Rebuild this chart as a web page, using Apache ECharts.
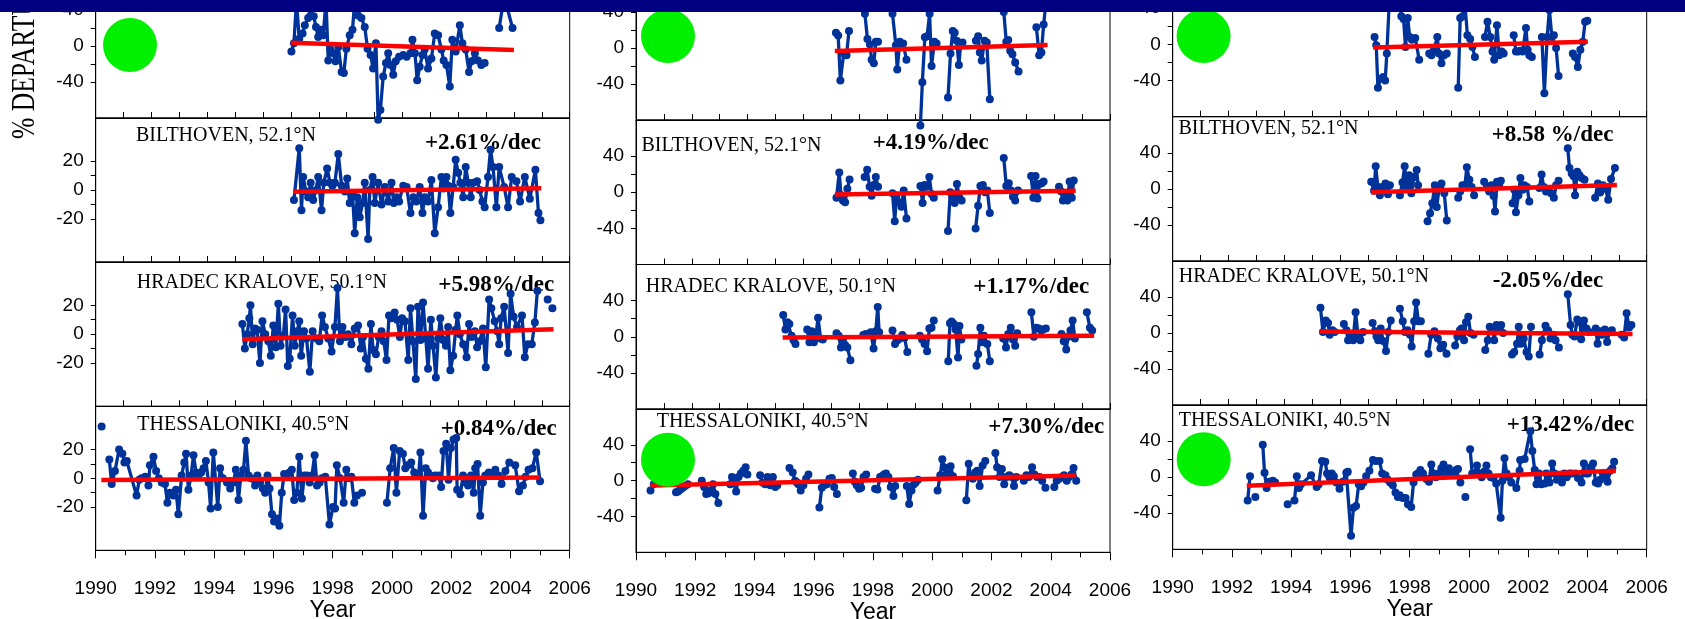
<!DOCTYPE html>
<html><head><meta charset="utf-8">
<script src="https://cdn.jsdelivr.net/npm/echarts@6/dist/echarts.min.js"></script>
<style>html,body{margin:0;padding:0;background:#fff}#c{width:1685px;height:619px}</style>
</head><body><div id="c"></div>
<script>
// ---------------- DATA ----------------
const xTickLabels = [1990,1992,1994,1996,1998,2000,2002,2004,2006];
const stationNames = ['BILTHOVEN, 52.1°N','HRADEC KRALOVE, 50.1°N','THESSALONIKI, 40.5°N'];
const trendLabels = ['+2.61%/dec','+5.98%/dec','+0.84%/dec','+4.19%/dec','+1.17%/dec','+7.30%/dec','+8.58 %/dec','-2.05%/dec','+13.42%/dec'];
const yAxisTitle = '% DEPARTURE';
const xAxisTitle = 'Year';

// column 1
const c1Top = [[1997.02,-6],[1997.11,3],[1997.20,50],[1997.30,8],[1997.42,14],[1997.50,23],[1997.62,31],[1997.71,34],[1997.82,33],[1997.90,21],[1997.98,10],[1998.08,18],[1998.16,12],[1998.26,50],[1998.34,-16],[1998.42,-4],[1998.52,-8],[1998.60,-17],[1998.70,-1],[1998.82,-29],[1998.90,-30],[1998.99,-3],[1999.11,12],[1999.21,18],[1999.29,50],[1999.41,34],[1999.53,31],[1999.65,21],[1999.75,-3],[1999.86,-10],[1999.95,-25],[2000.05,3],[2000.13,-82],[2000.21,-71],[2000.31,-34],[2000.41,-19],[2000.49,-8],[2000.57,-21],[2000.67,-32],[2000.76,-17],[2000.88,-12],[2001.03,-10],[2001.15,-12],[2001.29,-8],[2001.36,7],[2001.45,-8],[2001.53,-38],[2001.62,-23],[2001.72,-10],[2001.80,-4],[2001.92,-25],[2002.04,-14],[2002.16,14],[2002.28,12],[2002.40,-4],[2002.48,-16],[2002.58,-21],[2002.70,-45],[2002.79,7],[2002.91,-6],[2003.06,23],[2003.15,3],[2003.27,-4],[2003.39,-29],[2003.48,-17],[2003.60,-8],[2003.71,-16],[2003.83,-21],[2003.95,-19],null,[2004.47,20],[2004.65,55],[2004.95,20]];
const c1TopTrend = [[1997.0,3.7],[2005.0,-4.4]];
const c1Bilt = [[1997.11,-7],[1997.30,29],[1997.38,-14],[1997.44,9],[1997.54,-1],[1997.62,-5],[1997.71,5],[1997.80,-7],[1997.90,0],[1997.98,9],[1998.10,-14],[1998.18,5],[1998.30,15],[1998.40,5],[1998.49,3],[1998.58,5],[1998.70,25],[1998.82,3],[1998.94,-1],[1999.02,8],[1999.11,-9],[1999.21,-2],[1999.29,-30],[1999.38,-5],[1999.47,-19],[1999.57,-9],[1999.65,5],[1999.77,-34],[1999.83,0],[1999.93,9],[2000.01,-9],[2000.13,5],[2000.25,-10],[2000.37,2],[2000.49,-8],[2000.61,5],[2000.69,-9],[2000.79,-5],[2000.88,-8],[2001.03,3],[2001.15,2],[2001.29,-16],[2001.39,-5],[2001.50,-8],[2001.62,2],[2001.72,-16],[2001.80,-5],[2001.92,-8],[2002.04,7],[2002.16,-30],[2002.28,-12],[2002.40,9],[2002.48,1],[2002.58,9],[2002.64,3],[2002.72,-16],[2002.82,2],[2002.91,21],[2003.00,12],[2003.08,5],[2003.18,-5],[2003.27,16],[2003.36,5],[2003.45,-5],[2003.54,5],[2003.68,6],[2003.77,0],[2003.87,-8],[2003.95,-12],[2004.07,9],[2004.16,28],[2004.25,16],[2004.37,-12],[2004.47,16],[2004.65,2],[2004.79,-12],[2004.92,9],[2005.09,6],[2005.22,-8],[2005.39,9],[2005.57,-6],[2005.77,14],[2005.88,-16],[2005.95,-21]];
const c1BiltTrend = [[1997.08,-1.3],[2005.98,1.2]];
const c1Hrad = [[1995.26,7],[1995.35,-10],[1995.43,0],[1995.51,11],[1995.55,20],[1995.63,-7],[1995.71,4],[1995.79,3],[1995.89,-20],[1995.98,9],[1996.08,0],[1996.19,-5],[1996.28,-15],[1996.37,6],[1996.46,-9],[1996.55,21],[1996.63,-8],[1996.73,-1],[1996.81,17],[1996.89,-22],[1996.96,-17],[1997.06,13],[1997.14,-8],[1997.23,2],[1997.30,9],[1997.37,-15],[1997.47,2],[1997.56,-3],[1997.68,-26],[1997.78,2],[1997.92,-3],[1998.02,-5],[1998.12,13],[1998.22,5],[1998.34,-3],[1998.46,-12],[1998.58,5],[1998.67,32],[1998.76,-5],[1998.85,5],[1998.96,-2],[1999.05,0],[1999.17,-7],[1999.29,4],[1999.41,6],[1999.51,-10],[1999.59,-2],[1999.69,-17],[1999.78,-24],[1999.87,7],[1999.95,-11],[2000.05,-14],[2000.15,-2],[2000.25,2],[2000.33,-5],[2000.43,-18],[2000.52,13],[2000.61,11],[2000.72,15],[2000.81,10],[2000.91,-2],[2000.99,11],[2001.09,9],[2001.21,-18],[2001.29,18],[2001.38,-5],[2001.48,-31],[2001.56,19],[2001.65,-4],[2001.74,22],[2001.84,-3],[2001.92,-24],[2002.02,10],[2002.10,-8],[2002.20,-30],[2002.28,-3],[2002.36,11],[2002.46,-4],[2002.56,-8],[2002.64,5],[2002.72,-25],[2002.82,-15],[2002.91,3],[2002.97,13],[2003.06,0],[2003.18,-7],[2003.30,-16],[2003.39,7],[2003.48,-2],[2003.60,2],[2003.68,-9],[2003.77,-5],[2003.89,4],[2003.99,-23],[2004.11,24],[2004.19,18],[2004.31,9],[2004.40,2],[2004.47,-7],[2004.54,11],[2004.65,19],[2004.79,-13],[2004.88,28],[2004.99,12],[2005.11,5],[2005.29,13],[2005.39,-16],[2005.50,-7],[2005.64,-7],[2005.75,8],[2005.84,30],null,[2006.21,24],null,[2006.38,18]];
const c1HradTrend = [[1995.26,-3.6],[2006.42,3.4]];
const c1Thes = [[1990.20,36],null,[1990.46,13],[1990.54,-4],[1990.65,5],[1990.79,20],[1990.90,17],[1990.97,11],[1991.05,12],[1991.38,-12],[1991.47,-1],[1991.55,0],[1991.67,1],[1991.78,-5],[1991.83,9],[1991.95,15],[1992.04,5],[1992.13,0],[1992.23,-3],[1992.34,-4],[1992.42,-17],[1992.51,-10],[1992.62,-12],[1992.71,-8],[1992.79,-25],[1992.90,2],[1992.99,11],[1993.05,17],[1993.13,-8],[1993.22,2],[1993.30,16],[1993.39,4],[1993.47,2],[1993.56,4],[1993.64,7],[1993.72,12],[1993.81,-3],[1993.88,-21],[1993.97,18],[1994.12,-20],[1994.20,7],[1994.29,0],[1994.43,-3],[1994.54,-7],[1994.65,-3],[1994.73,6],[1994.82,-15],[1994.90,2],[1994.99,6],[1995.07,26],[1995.16,2],[1995.24,0],[1995.38,-5],[1995.46,2],[1995.55,-3],[1995.64,-7],[1995.72,-10],[1995.80,2],[1995.87,-7],[1995.95,-25],[1996.02,-30],[1996.11,-28],[1996.20,-33],[1996.28,-10],[1996.36,3],[1996.45,2],[1996.54,4],[1996.62,6],[1996.70,-15],[1996.79,-10],[1996.87,15],[1996.96,-14],[1997.04,2],[1997.13,2],[1997.22,-3],[1997.30,2],[1997.39,16],[1997.47,-5],[1997.56,-3],[1997.63,0],[1997.75,1],[1997.89,-32],[1998.01,-20],[1998.08,-21],[1998.14,9],[1998.25,0],[1998.37,-17],[1998.46,6],[1998.54,0],[1998.63,1],[1998.73,-17],[1998.82,-12],[1998.99,-10],null,[1999.83,-17],[1999.94,7],[2000.06,21],[2000.15,-10],[2000.26,19],[2000.37,17],[2000.45,7],[2000.54,9],[2000.65,11],[2000.75,4],[2000.90,2],[2000.96,18],[2001.05,-26],[2001.14,7],[2001.22,4],[2001.29,2],[2001.38,0],[2001.46,2],[2001.58,2],[2001.66,-6],[2001.74,19],[2001.83,24],[2001.91,-1],[2001.99,21],[2002.08,27],[2002.17,28],[2002.20,-8],[2002.31,-11],[2002.40,2],[2002.48,-3],[2002.57,-5],[2002.67,2],[2002.76,-10],[2002.81,7],[2002.89,10],[2002.98,-26],[2003.07,-3],[2003.15,2],[2003.27,4],[2003.38,2],[2003.49,6],[2003.60,2],[2003.70,-4],[2003.83,5],[2003.96,11],[2004.16,9],[2004.29,-9],[2004.42,-5],[2004.51,1],[2004.61,6],[2004.74,7],[2004.87,18],[2005.00,-2]];
const c1ThesTrend = [[1990.19,-1.2],[2005.0,0.6]];

// column 2
const c2Top = [[1997.17,17],[1997.25,14],[1997.33,-36],[1997.45,-6],[1997.55,-8],[1997.64,19],null,[1998.1,50],[1998.21,38],[1998.3,10],[1998.39,4],[1998.45,-13],[1998.53,-17],[1998.6,7],[1998.68,7],null,[1999.1,55],[1999.2,38],[1999.32,3],[1999.37,-24],[1999.46,7],[1999.58,5],[1999.7,-13],null,[2000.2,-86],[2000.27,-38],[2000.36,12],[2000.44,13],[2000.53,38],[2000.6,-20],[2000.7,7],[2000.78,5],null,[2001.19,-55],[2001.28,-6],[2001.36,19],[2001.43,17],[2001.5,8],[2001.58,-19],[2001.64,3],[2001.71,6],null,[2002.19,8],[2002.27,13],[2002.33,-5],[2002.4,-14],[2002.5,8],[2002.58,6],[2002.69,-57],null,[2003.1,50],[2003.19,40],[2003.28,7],[2003.35,9],[2003.42,-3],[2003.5,-7],[2003.6,-16],[2003.72,-26],null,[2004.36,23],[2004.46,-8],[2004.54,-5],[2004.62,26],[2004.7,50]];
const c2TopTrend = [[1997.13,-3.4],[2004.76,3.3]];
const c2Bilt = [[1997.19,-6],[1997.29,22],[1997.35,-3],[1997.42,-9],[1997.5,-11],[1997.58,4],[1997.66,14],null,[1998.2,17],[1998.29,25],[1998.38,6],[1998.45,-4],[1998.53,8],[1998.6,17],[1998.68,6],null,[1999.2,-1],[1999.28,-32],[1999.34,-4],[1999.44,-11],[1999.52,-16],[1999.6,2],[1999.7,-29],null,[2000.2,7],[2000.28,-12],[2000.35,8],[2000.43,6],[2000.52,17],[2000.6,-2],[2000.68,-6],null,[2001.19,-43],[2001.27,0],[2001.35,-5],[2001.43,-12],[2001.51,9],[2001.6,-6],[2001.68,-9],null,[2002.18,-40],[2002.27,-15],[2002.35,7],[2002.44,8],[2002.52,0],[2002.6,2],[2002.69,-23],null,[2003.19,38],[2003.28,7],[2003.37,10],[2003.45,2],[2003.52,-5],[2003.6,-9],[2003.7,2],null,[2004.17,18],[2004.25,-6],[2004.33,18],[2004.4,-7],[2004.47,9],[2004.55,10],[2004.62,12],null,[2005.17,6],[2005.24,1],[2005.31,-9],[2005.39,-3],[2005.47,-9],[2005.55,12],[2005.63,-6],[2005.7,13]];
const c2BiltTrend = [[1997.13,-2.4],[2005.77,1.7]];
const c2Hrad = [[1995.28,24],[1995.36,8],[1995.43,16],[1995.5,14],[1995.58,1],[1995.65,-4],[1995.72,-8],null,[1996.14,8],[1996.22,-6],[1996.3,6],[1996.38,-6],[1996.45,1],[1996.53,21],[1996.62,-2],[1996.7,-3],null,[1997.19,4],[1997.27,1],[1997.35,-12],[1997.42,-4],[1997.5,-9],[1997.58,-12],[1997.69,-26],null,[1998.15,2],[1998.24,3],[1998.33,3],[1998.42,5],[1998.52,-13],[1998.6,6],[1998.67,33],[1998.72,5],null,[1999.2,7],[1999.29,-8],[1999.38,-4],[1999.46,-2],[1999.55,2],[1999.63,-1],[1999.73,-17],null,[2000.18,1],[2000.26,-3],[2000.35,-8],[2000.44,-16],[2000.52,9],[2000.6,10],[2000.68,18],null,[2001.2,-27],[2001.26,15],[2001.32,17],[2001.4,14],[2001.46,8],[2001.55,-23],[2001.6,12],[2001.67,-3],null,[2002.21,-32],[2002.27,-19],[2002.35,10],[2002.42,-6],[2002.48,1],[2002.6,-8],[2002.69,-27],null,[2003.17,-2],[2003.27,-12],[2003.35,3],[2003.44,10],[2003.52,-3],[2003.6,-10],[2003.67,4],null,[2004.18,27],[2004.27,0],[2004.36,10],[2004.45,9],[2004.53,7],[2004.6,8],[2004.7,9],null,[2005.26,3],[2005.34,-5],[2005.43,-14],[2005.5,0],[2005.58,7],[2005.66,18],[2005.74,-2],null,[2006.17,27],[2006.28,10],[2006.36,7]];
const c2HradTrend = [[1995.26,-0.7],[2006.43,1.2]];
const c2Thes = [[1990.49,-11],[1990.6,-4],[1990.7,-2],null,[1991.35,-13],[1991.42,-12],[1991.5,-10],[1991.58,-8],[1991.66,-6],[1991.75,-4],null,[1992.22,0],[1992.3,-7],[1992.37,-15],[1992.45,-14],[1992.52,-11],[1992.6,-4],[1992.68,-15],[1992.78,-25],null,[1993.18,-4],[1993.24,4],[1993.31,-3],[1993.38,-12],[1993.46,4],[1993.54,8],[1993.62,11],[1993.7,15],[1993.76,7],null,[1994.19,6],[1994.27,-2],[1994.36,-4],[1994.44,4],[1994.53,-5],[1994.62,4],[1994.7,-7],[1994.77,-5],null,[1995.18,14],[1995.29,9],[1995.37,0],[1995.43,-2],[1995.48,-4],[1995.56,-11],[1995.65,-5],[1995.74,2],[1995.82,7],null,[1996.19,-30],[1996.27,-8],[1996.35,-5],[1996.44,-4],[1996.53,2],[1996.61,3],[1996.69,-7],[1996.78,-15],null,[1997.32,8],[1997.38,-1],[1997.45,-5],[1997.53,-9],[1997.6,-8],[1997.68,4],[1997.77,7],null,[1998.07,-9],[1998.15,-10],[1998.24,4],[1998.3,5],[1998.37,7],[1998.44,8],[1998.52,4],[1998.6,-7],[1998.69,-17],[1998.75,-6],null,[1999.14,-6],[1999.22,-26],[1999.3,-11],[1999.38,-4],[1999.44,-2],[1999.52,1],null,[2000.18,-11],[2000.27,6],[2000.34,24],[2000.4,15],[2000.47,7],[2000.55,8],[2000.62,16],[2000.7,5],null,[2001.15,-22],[2001.23,19],[2001.3,4],[2001.37,2],[2001.45,9],[2001.52,11],[2001.6,-6],[2001.7,17],[2001.79,22],null,[2002.13,31],[2002.19,15],[2002.27,4],[2002.35,13],[2002.43,-4],[2002.51,4],[2002.6,6],[2002.68,4],[2002.76,-6],[2002.84,4],null,[2003.09,0],[2003.18,6],[2003.26,4],[2003.37,15],[2003.45,7],[2003.54,4],[2003.63,4],[2003.71,0],[2003.82,-8],null,[2004.12,-7],[2004.2,0],[2004.29,2],[2004.37,4],[2004.45,6],[2004.54,0],[2004.62,4],[2004.7,7],[2004.77,14],[2004.86,0]];
const c2ThesTrend = [[1990.49,-5.5],[2004.86,5.7]];

// column 3
const c3Top = [[1997.24,8],[1997.3,-1],[1997.36,-48],[1997.45,-38],[1997.55,-36],[1997.62,-40],[1997.68,-10],[1997.78,55],[1998.12,55],[1998.2,31],[1998.28,28],[1998.35,-3],[1998.43,29],[1998.5,8],[1998.58,5],[1998.7,7],[1998.84,-17],null,[1999.2,-10],[1999.28,-12],[1999.37,-6],[1999.49,8],[1999.55,-10],[1999.64,-21],[1999.73,-12],[1999.83,-10],null,[2000.24,-48],[2000.31,29],[2000.4,31],[2000.48,45],[2000.57,10],[2000.67,6],[2000.75,-3],[2000.84,-14],null,[2001.2,8],[2001.29,25],[2001.39,8],[2001.47,-8],[2001.53,-17],[2001.63,21],[2001.71,-12],[2001.8,-8],[2001.87,-10],null,[2002.23,10],[2002.31,-8],[2002.39,-8],[2002.47,-7],[2002.55,-8],[2002.67,18],[2002.73,-6],[2002.79,-12],[2002.88,-14],null,[2003.24,8],[2003.33,-54],[2003.43,8],[2003.51,38],[2003.6,8],[2003.67,10],[2003.75,-4],[2003.84,-35],null,[2004.35,-10],[2004.43,-14],[2004.53,-25],[2004.62,-6],[2004.71,3],[2004.79,25],[2004.87,26]];
const c3TopTrend = [[1997.19,-3.4],[2004.89,2.9]];
const c3Bilt = [[1997.12,8],[1997.22,-2],[1997.28,25],[1997.36,2],[1997.43,-7],[1997.52,2],[1997.63,6],[1997.72,-6],[1997.79,4],null,[1998.15,-7],[1998.24,7],[1998.32,25],[1998.39,2],[1998.48,15],[1998.56,-5],[1998.65,13],[1998.75,21],[1998.8,4],null,[1999.14,-36],[1999.23,-27],[1999.31,-16],[1999.4,4],[1999.47,-20],[1999.56,2],[1999.64,6],[1999.74,-5],[1999.83,-35],null,[2000.24,-10],[2000.31,-3],[2000.39,4],[2000.48,4],[2000.55,24],[2000.64,10],[2000.72,2],[2000.81,-7],null,[2001.17,8],[2001.27,2],[2001.35,-3],[2001.43,4],[2001.51,-8],[2001.56,-25],[2001.63,8],[2001.71,4],[2001.77,9],null,[2002.19,-16],[2002.25,-1],[2002.31,-26],[2002.4,-7],[2002.47,12],[2002.55,-1],[2002.61,4],[2002.71,2],[2002.79,-14],null,[2003.15,1],[2003.23,16],[2003.31,2],[2003.39,-3],[2003.48,-1],[2003.57,-5],[2003.67,-10],[2003.75,4],[2003.84,9],null,[2004.17,45],[2004.23,23],[2004.31,17],[2004.38,14],[2004.43,-7],[2004.51,19],[2004.59,15],[2004.67,12],[2004.77,10],null,[2005.15,-10],[2005.25,6],[2005.33,-4],[2005.43,4],[2005.52,0],[2005.62,-12],[2005.72,11],[2005.86,23]];
const c3BiltTrend = [[1997.11,-3.8],[2005.93,4.2]];
const c3Hrad = [[1995.3,28],[1995.39,1],[1995.49,14],[1995.57,11],[1995.63,-2],[1995.73,3],[1995.81,1],null,[1996.14,10],[1996.23,3],[1996.29,-8],[1996.37,-2],[1996.47,-8],[1996.56,23],[1996.65,-4],[1996.73,-8],[1996.83,1],null,[1997.17,11],[1997.25,2],[1997.31,-4],[1997.37,-8],[1997.46,5],[1997.55,-9],[1997.65,-20],[1997.73,1],[1997.82,14],null,[1998.15,27],[1998.25,13],[1998.33,1],[1998.42,3],[1998.51,-2],[1998.57,-15],[1998.66,13],[1998.73,34],[1998.81,13],[1998.9,13],null,[1999.17,-23],[1999.27,-2],[1999.39,2],[1999.51,-6],[1999.6,-17],[1999.7,-13],[1999.82,-23],null,[2000.13,-14],[2000.21,-4],[2000.3,3],[2000.36,5],[2000.45,-8],[2000.52,12],[2000.6,18],[2000.68,0],[2000.79,-2],null,[2001.21,-19],[2001.3,-8],[2001.37,7],[2001.45,5],[2001.53,-8],[2001.61,9],[2001.69,3],[2001.78,9],[2001.85,0],null,[2002.17,-24],[2002.25,-21],[2002.35,-12],[2002.41,7],[2002.49,-12],[2002.59,-6],[2002.69,-21],[2002.77,-26],[2002.85,7],null,[2003.16,-24],[2003.24,-8],[2003.37,8],[2003.46,3],[2003.55,-6],[2003.64,-2],[2003.73,-8],[2003.85,-16],null,[2004.17,43],[2004.27,9],[2004.33,-2],[2004.41,-4],[2004.51,15],[2004.61,12],[2004.65,-7],[2004.75,14],[2004.84,5],[2004.93,1],null,[2005.17,5],[2005.24,-12],[2005.32,2],[2005.4,-2],[2005.5,4],[2005.58,-10],[2005.66,1],[2005.75,3],null,[2006.1,-2],[2006.19,-5],[2006.28,22],[2006.37,6],[2006.45,9]];
const c3HradTrend = [[1995.27,1.8],[2006.49,-1.2]];
const c3Thes = [[1992.53,-26],[1992.61,1],null,[1992.79,-22],null,[1993.04,36],[1993.1,5],[1993.17,-12],[1993.27,-5],[1993.38,-4],[1993.46,-6],null,[1993.88,-30],null,[1994.11,-26],[1994.19,1],[1994.26,-12],[1994.33,-8],[1994.67,2],[1994.86,-11],[1994.93,-8],[1995.04,18],[1995.15,17],[1995.21,4],[1995.29,0],[1995.37,4],[1995.44,1],[1995.52,-6],[1995.63,-13],[1995.74,-5],[1995.86,5],[1995.91,6],[1996.02,-65],[1996.1,-34],[1996.19,-32],[1996.28,-8],[1996.36,-10],[1996.44,-6],[1996.53,1],[1996.64,7],[1996.76,19],[1996.85,18],[1996.98,18],[1997.07,4],[1997.18,2],[1997.26,-3],[1997.34,-6],[1997.43,-9],[1997.52,-17],[1997.6,-22],[1997.66,-20],[1997.77,-23],[1997.86,-23],[1997.94,-30],[1998.05,-33],[1998.13,-6],[1998.22,3],[1998.28,4],[1998.36,8],[1998.45,4],[1998.56,-2],[1998.65,-5],[1998.73,14],[1998.81,4],[1998.88,0],[1998.99,4],[1999.07,10],[1999.14,14],[1999.23,4],[1999.32,10],[1999.4,6],[1999.48,4],[1999.57,8],[1999.63,9],[1999.71,-6],null,[1999.88,-22],null,[2000.04,31],[2000.11,4],[2000.19,4],[2000.27,13],[2000.35,4],[2000.43,0],[2000.51,6],[2000.59,13],[2000.66,4],[2000.74,0],[2000.83,-1],[2000.92,-7],[2001.07,-45],[2001.13,-4],[2001.2,21],[2001.27,4],[2001.35,0],[2001.43,-6],[2001.6,-12],[2001.71,7],[2001.73,19],[2001.88,20],[2002.07,51],[2002.14,29],[2002.22,8],[2002.28,-8],[2002.37,4],[2002.45,-8],[2002.56,-7],[2002.61,4],[2002.72,-6],[2002.81,15],[2002.89,4],[2002.97,-3],[2003.06,0],[2003.14,-6],[2003.22,4],[2003.3,0],[2003.39,4],[2003.47,4],[2003.6,4],[2003.68,-1],[2003.8,-6],[2003.88,15],[2003.95,4],[2004.02,4],[2004.1,11],[2004.19,15],[2004.28,-6],[2004.36,-7],[2004.43,-3],[2004.52,4],[2004.6,2],[2004.68,-5],[2004.77,7],[2004.84,10],[2004.9,17]];
const c3ThesTrend = [[1992.5,-9.5],[2004.96,7.2]];

// y ranges per panel (column x row)
const yRange = [[80,50,50,50],[80,80,80,80],[80,80,80,80]];

// ---------------- LAYOUT ----------------
const COLS = [
  {left:95.7, width:474, rows:[[-26,144],[118,144],[262,144.3],[406.3,144]]},
  {left:636, width:474, rows:[[-24,144],[120,144.5],[264.5,144.5],[409,143.3]]},
  {left:1172.7, width:474, rows:[[-28,144.7],[116.7,144.3],[261,144],[405,144.3]]}
];
const panelData = [
  [[c1Top,c1TopTrend],[c1Bilt,c1BiltTrend],[c1Hrad,c1HradTrend],[c1Thes,c1ThesTrend]],
  [[c2Top,c2TopTrend],[c2Bilt,c2BiltTrend],[c2Hrad,c2HradTrend],[c2Thes,c2ThesTrend]],
  [[c3Top,c3TopTrend],[c3Bilt,c3BiltTrend],[c3Hrad,c3HradTrend],[c3Thes,c3ThesTrend]]
];
const namePos = [[136,136],[136.7,282.7],[137.3,424.3],[641.4,145.5],[645.7,286.7],[656.7,421.3],[1178.4,128.3],[1178.7,276.7],[1178.7,420.7]];
const trendPos = [[425,143.3],[438.3,284.7],[440.7,428.7],[872.7,143.3],[973.3,286.7],[988.3,427.3],[1491.7,135],[1492.7,280.7],[1506.7,425]];
const circles = [[130,45],[668,36],[668,459.7],[1203.6,36],[1203.7,459.3]];

const SANS = "'Liberation Sans', Arial, sans-serif";
const SERIF = "'Liberation Serif', 'Times New Roman', serif";
const BLUE = '#003399';

const grids=[], xAxes=[], yAxes=[], series=[];
let gi = 0;
const fix = arr => arr.map(d => d === null ? ['-','-'] : d);
COLS.forEach((col, ci) => {
  col.rows.forEach((r, ri) => {
    const last = ri === 3;
    grids.push({left:col.left, top:r[0], width:col.width, height:r[1], show:true, borderColor:'#000', borderWidth:1,
      backgroundColor:'transparent', containLabel:false, outerBoundsMode:'none'});
    const xa = {type:'value', gridIndex:gi, min:1990, max: last ? 2006 : 2007, interval: last ? 2 : 1,
      axisLine:{show:true, onZero:false, lineStyle:{color:'#000', width:1}},
      splitLine:{show:false},
      axisTick:{show:true, inside:!last, length: last ? 8 : 6, lineStyle:{color:'#000', width:1}},
      axisLabel:{show:last, margin:29, fontSize:19, fontFamily:SANS, color:'#000', formatter: v => String(v)}};
    if (last) {
      xa.minorTick = {show:true, splitNumber:2, length:5, lineStyle:{color:'#000', width:1}};
      xa.name = xAxisTitle; xa.nameLocation='middle'; xa.nameGap=49;
      xa.nameTextStyle = {fontSize:23, fontFamily:SANS, color:'#000'};
    }
    xAxes.push(xa);
    const R = yRange[ci][ri];
    const lab = R === 50 ? [-20,0,20] : [-40,0,40];
    const tks = R === 50 ? [-20,-10,0,10,20] : [-40,-20,0,20,40];
    yAxes.push({type:'value', gridIndex:gi, min:-R, max:R,
      axisLine:{show:true, onZero:false, lineStyle:{color:'#000', width:1}},
      splitLine:{show:false},
      axisTick:{show:true, inside:false, length:5, customValues:tks, lineStyle:{color:'#000', width:1}},
      axisLabel:{show:true, margin:12, fontSize:19, fontFamily:SANS, color:'#000', customValues:lab}});
    const [pts, tr] = panelData[ci][ri];
    series.push({type:'line', xAxisIndex:gi, yAxisIndex:gi, data:fix(pts), clip:false, connectNulls:false,
      symbol:'circle', symbolSize:8, showSymbol:true, silent:true, z:2,
      itemStyle:{color:BLUE, borderWidth:0}, lineStyle:{color:BLUE, width:3.3}});
    series.push({type:'line', xAxisIndex:gi, yAxisIndex:gi, data:tr, clip:false, symbol:'none', silent:true, z:3,
      lineStyle:{color:'#ff0000', width:4.5}});
    gi++;
  });
});

const graphic = [];
for (let i=0;i<9;i++){
  graphic.push({type:'text', x:namePos[i][0], y:namePos[i][1], z:1, silent:true,
    style:{text:stationNames[i%3], fontSize:20, fontFamily:SERIF, fill:'#000', textAlign:'left', textVerticalAlign:'middle', align:'left', verticalAlign:'middle'}});
  graphic.push({type:'text', x:trendPos[i][0], y:trendPos[i][1], z:1, silent:true,
    style:{text:trendLabels[i], fontSize:23, fontWeight:'bold', fontFamily:SERIF, fill:'#000', textAlign:'left', textVerticalAlign:'middle', align:'left', verticalAlign:'middle'}});
}
circles.forEach(c => graphic.push({type:'circle', shape:{cx:c[0], cy:c[1], r:27}, z:90, silent:true, style:{fill:'#00f000'}}));
graphic.push({type:'text', x:25, y:139, rotation:Math.PI/2, scaleX:0.8, scaleY:1.05, z:50, silent:true,
  style:{text:yAxisTitle, fontSize:32, fontFamily:SERIF, fill:'#000', textAlign:'left', textVerticalAlign:'middle', align:'left', verticalAlign:'middle'}});
graphic.push({type:'rect', shape:{x:0, y:0, width:1685, height:12}, z:100, silent:true, style:{fill:'#000080'}});

const chart = echarts.init(document.getElementById('c'), null, {renderer:'canvas'});
chart.setOption({animation:false, backgroundColor:'#fff', grid:grids, xAxis:xAxes, yAxis:yAxes, series:series, graphic:graphic});
</script>
</body></html>
